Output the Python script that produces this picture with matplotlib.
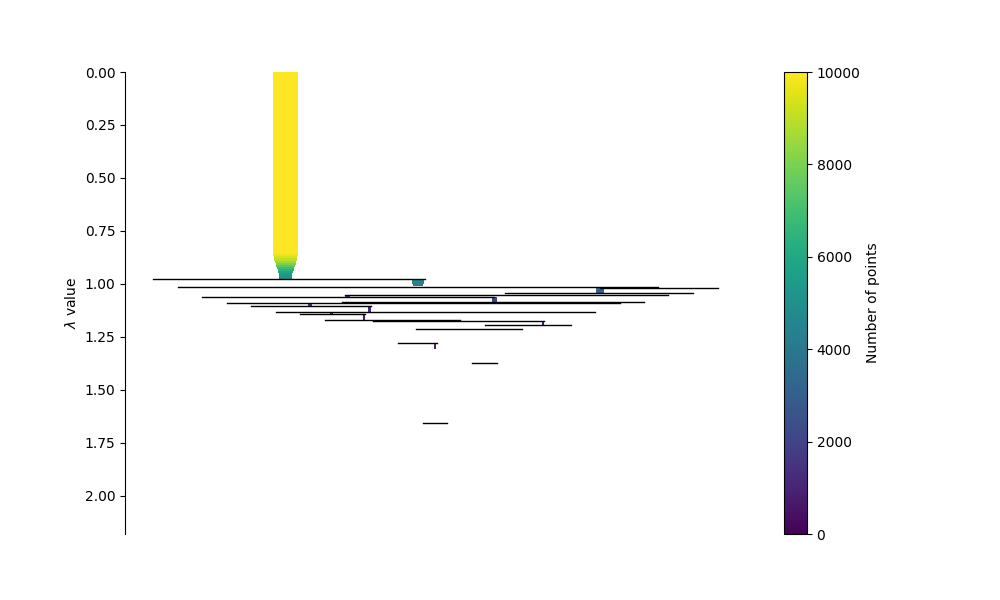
import matplotlib
matplotlib.use('Agg')
import matplotlib.pyplot as plt
import numpy as np
from matplotlib.colors import Normalize
from matplotlib.cm import ScalarMappable


#Split lines (left child x, right child x, lambda of split)
#-----------------------------------------------------------
split_x0 = [28, 53, 475, 380, 220, 77, 217, 102, 126, 151, 175, 200, 248, 360, 291, 273, 347, 298]
split_x1 = [300, 533, 593, 568, 543, 369, 519, 495, 246, 470, 240, 335, 419, 446, 397, 312, 372, 322]
split_lambda = [0.975, 1.013, 1.017, 1.045, 1.052, 1.061, 1.084, 1.091, 1.104, 1.132,
                1.141, 1.169, 1.177, 1.193, 1.215, 1.278, 1.373, 1.655]
#-----------------------------------------------------------

#Cluster bars (x centre, lambda edges, number of points per step)
#-----------------------------------------------------------
bar_x = [160.5, 293, 475, 222.5, 369.5, 185, 244.5, 206.7, 239, 333, 417.7, 360, 291, 310]
bar_lambdas = [
    [0.0, 0.857, 0.87, 0.88, 0.89, 0.90, 0.91, 0.92, 0.93, 0.94, 0.95, 0.96, 0.975],
    [0.976, 0.987, 0.998, 1.010],
    [1.019, 1.031, 1.044],
    [1.050, 1.060],
    [1.061, 1.072, 1.084],
    [1.092, 1.104],
    [1.104, 1.131],
    [1.133, 1.141],
    [1.141, 1.168],
    [1.170, 1.177],
    [1.177, 1.192],
    [1.193, 1.215],
    [1.215, 1.278],
    [1.278, 1.307],
]
bar_sizes = [
    [10000, 9700, 9400, 9000, 8500, 8000, 7400, 6900, 6400, 5900, 5500, 5200],
    [4900, 4500, 4000],
    [3400, 3000],
    [1900],
    [2300, 2000],
    [1500],
    [1200],
    [1000],
    [800],
    [1000],
    [700],
    [350],
    [350],
    [900],
]
#-----------------------------------------------------------

max_points = 10000
width_per_point = 0.0025


def plot_condensed_tree(dst):

    fig, ax = plt.subplots(figsize=(10, 6), dpi=100)
    cmap = plt.get_cmap('viridis')
    norm = Normalize(vmin=0, vmax=max_points)

    #Draw cluster bars
    #------------------------------------------------
    for x, lambdas, sizes in zip(bar_x, bar_lambdas, bar_sizes):
        for i, size in enumerate(sizes):
            ax.bar(x, lambdas[i + 1] - lambdas[i], width=size * width_per_point,
                   bottom=lambdas[i], color=cmap(norm(size)), linewidth=0,
                   align='center')
    #------------------------------------------------

    #Draw split lines
    #------------------------------------------------
    for x0, x1, lam in zip(split_x0, split_x1, split_lambda):
        ax.plot([x0, x1], [lam, lam], color='black', linewidth=1)
    #------------------------------------------------

    #Axes styling
    #------------------------------------------------
    ax.set_xlim(0, 620)
    ax.set_ylim(2.18, 0)
    ax.set_xticks([])
    for side in ['top', 'right', 'bottom']:
        ax.spines[side].set_visible(False)
    ax.set_ylabel(r'$\lambda$ value')
    #------------------------------------------------

    #Colorbar
    #------------------------------------------------
    sm = ScalarMappable(norm=norm, cmap=cmap)
    sm.set_array([])
    cb = fig.colorbar(sm, ax=ax)
    cb.set_label('Number of points')
    #------------------------------------------------

    plt.savefig(dst)


plot_condensed_tree('out.png')
